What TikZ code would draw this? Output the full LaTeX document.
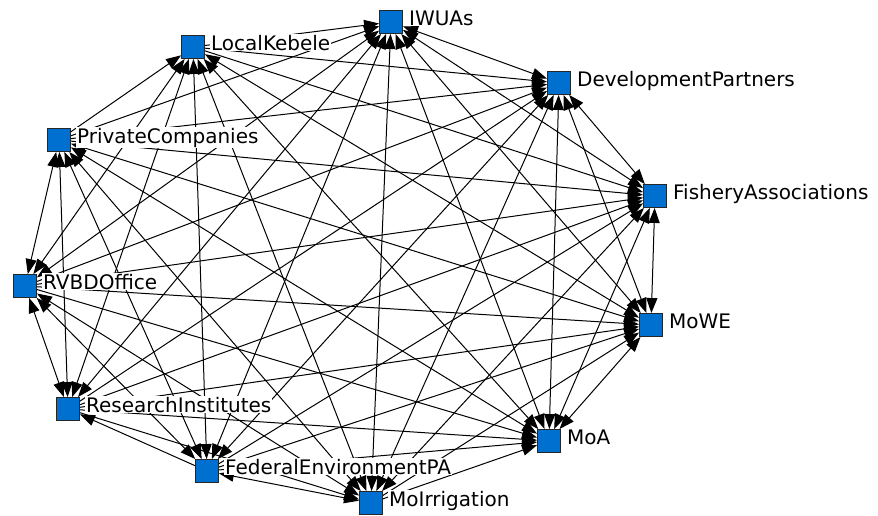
\documentclass[tikz,border=0pt]{standalone}
\usepackage{fontspec}
\setmainfont{DejaVu Sans}
\usetikzlibrary{arrows.meta,backgrounds,calc}
\definecolor{nodeblue}{RGB}{0,112,208}
\begin{document}
\begin{tikzpicture}[x=1pt,y=-1pt,
  sq/.style={draw=black!85, fill=nodeblue, minimum size=23pt, inner sep=0pt, line width=0.9pt},
  lbl/.style={anchor=base west, inner sep=1pt, fill=white, font=\fontsize{20}{24}\selectfont},
  tie/.style={line width=1pt, -{Triangle[length=15pt,width=11pt]}},
  mutual/.style={line width=1pt, {Triangle[length=15pt,width=11pt]}-{Triangle[length=15pt,width=11pt]}}]
\useasboundingbox (0,0) rectangle (878,515);
% nodes (squares)
\node[sq] (A) at (391,22) {};
\node[sq] (B) at (193,47) {};
\node[sq] (C) at (559,83) {};
\node[sq] (D) at (59,140) {};
\node[sq] (E) at (655,196) {};
\node[sq] (F) at (25,286) {};
\node[sq] (G) at (651,325) {};
\node[sq] (H) at (68,409) {};
\node[sq] (I) at (549,441) {};
\node[sq] (J) at (207,471) {};
\node[sq] (K) at (371,503) {};
% labels
\node[lbl] (tA) at ($(A.east)+(5,3)$) {IWUAs};
\node[lbl] (tB) at ($(B.east)+(5,3)$) {LocalKebele};
\node[lbl] (tC) at ($(C.east)+(5,3)$) {DevelopmentPartners};
\node[lbl] (tD) at ($(D.east)+(5,3)$) {PrivateCompanies};
\node[lbl] (tE) at ($(E.east)+(5,3)$) {FisheryAssociations};
\node[lbl] (tF) at ($(F.east)+(5,3)$) {RVBDOffice};
\node[lbl] (tG) at ($(G.east)+(5,3)$) {MoWE};
\node[lbl] (tH) at ($(H.east)+(5,3)$) {ResearchInstitutes};
\node[lbl] (tI) at ($(I.east)+(5,3)$) {MoA};
\node[lbl] (tJ) at ($(J.east)+(5,3)$) {FederalEnvironmentPA};
\node[lbl] (tK) at ($(K.east)+(5,3)$) {MoIrrigation};
% connectors
\begin{pgfonlayer}{background}
\foreach \s/\t in {B/A,D/A,B/C,D/B,B/E,D/C,F/C,H/C,D/E,F/E,H/E,J/E,F/G,F/I,H/G,J/G,K/G,H/I,J/H,H/K,J/I,K/I}
  \draw[tie] (\s) -- (\t);
\foreach \s/\t in {A/C,A/E,A/F,A/G,A/H,A/I,A/J,A/K,B/F,B/G,B/H,B/I,B/J,B/K,C/E,C/G,C/I,C/J,C/K,D/F,D/G,D/H,D/I,D/J,D/K,E/G,E/I,E/K,F/H,F/J,F/K,G/I,J/K}
  \draw[mutual] (\s) -- (\t);
\end{pgfonlayer}
\end{tikzpicture}
\end{document}
